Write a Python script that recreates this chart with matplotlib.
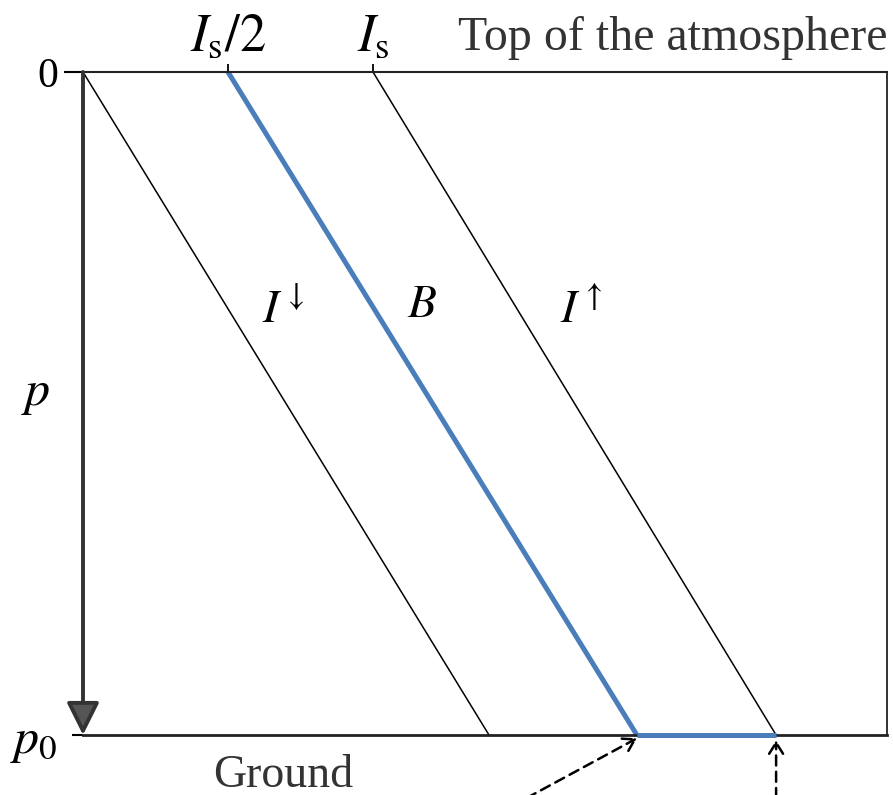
import matplotlib.pyplot as plt

plt.rcParams["mathtext.fontset"] = "stix"

# ── Dados (intensidade em unidades de I_s, pressão normalizada p/p0) ─────────
p_levels = [0.0, 1.0]
I_down = [0.0, 1.40]
B_atm = [0.5, 1.91]
I_up = [1.0, 2.39]
B_ground = 2.39

x_ticks = [0.5, 1.0]
x_ticklabels = [r"$I_\mathrm{s}/2$", r"$I_\mathrm{s}$"]
y_ticks = [0.0, 1.0]
y_ticklabels = ["0", r"$p_0$"]

BLUE = "#4a7ebb"
GREY = "#333333"

fig = plt.figure(figsize=(8.93, 7.95), dpi=100)
ax = fig.add_axes([83 / 893, 60 / 795, 804 / 893, 663 / 795])

ax.plot(I_down, p_levels, color="black", lw=1.1)
ax.plot(I_up, p_levels, color="black", lw=1.1)
ax.plot(B_atm, p_levels, color=BLUE, lw=3.6, clip_on=False, solid_capstyle="butt")
ax.plot([B_atm[-1], B_ground], [p_levels[-1], p_levels[-1]], color=BLUE, lw=3.6,
        clip_on=False, solid_capstyle="butt", zorder=5)

ax.set_xlim(0, 804 / 290)
ax.set_ylim(1, 0)

# eixos
ax.spines["left"].set_visible(False)
ax.spines["top"].set_linewidth(1.5)
ax.spines["right"].set_linewidth(1.3)
ax.spines["bottom"].set_linewidth(2.0)
for s in ax.spines.values():
    s.set_color("#222222")

ax.xaxis.tick_top()
ax.set_xticks(x_ticks)
ax.set_xticklabels(x_ticklabels, fontsize=38)
ax.tick_params(axis="x", direction="out", length=6, width=1.3, pad=1, colors="black")

ax.set_yticks(y_ticks)
ax.set_yticklabels(y_ticklabels, fontsize=36)
ax.tick_params(axis="y", direction="out", length=12, width=1.5, pad=6, colors="black")
ax.get_yticklabels()[0].set_fontfamily("Liberation Serif")
ax.get_yticklabels()[0].set_fontsize(30)
ax.yaxis.get_major_ticks()[0].tick1line.set_markersize(14)
ax.yaxis.get_major_ticks()[1].tick1line.set_markersize(8)

ax.text(-0.215, 0.502, r"$p$", fontsize=36, ha="left", va="baseline", clip_on=False)

# seta vertical de pressão
ax.annotate("", xy=(0, 1.0), xytext=(0, 0), annotation_clip=False,
            arrowprops=dict(arrowstyle="-|>,head_length=1.0,head_width=0.5",
                            mutation_scale=20, facecolor="#555555",
                            edgecolor="#333333", lw=2.8, shrinkA=0, shrinkB=0))

# rótulos das curvas
ax.text(0.69, 0.36, r"$I^{\downarrow}$", fontsize=34, ha="center", va="center")
ax.text(1.17, 0.35, r"$B$", fontsize=34, ha="center", va="center")
ax.text(1.72, 0.36, r"$I^{\uparrow}$", fontsize=34, ha="center", va="center")

ax.text(2.035, -0.033, "Top of the atmosphere", fontsize=34.5, family="Liberation Serif",
        color=GREY, ha="center", va="baseline", clip_on=False)
ax.text(0.69, 1.078, "Ground", fontsize=33, family="Liberation Serif",
        color=GREY, ha="center", va="baseline", clip_on=False)

# setas tracejadas vindas de baixo
dash_kw = dict(arrowstyle="->,head_length=0.8,head_width=0.5", color="black",
               lw=1.8, linestyle=(0, (4, 2.5)), shrinkA=0, shrinkB=0)
ax.annotate("", xy=(B_atm[-1], 1.005), xytext=(1.53, 1.095),
            annotation_clip=False, arrowprops=dash_kw)
ax.annotate("", xy=(B_ground, 1.008), xytext=(B_ground, 1.095),
            annotation_clip=False, arrowprops=dash_kw)

fig.savefig("out.png", dpi=100, facecolor="white")
